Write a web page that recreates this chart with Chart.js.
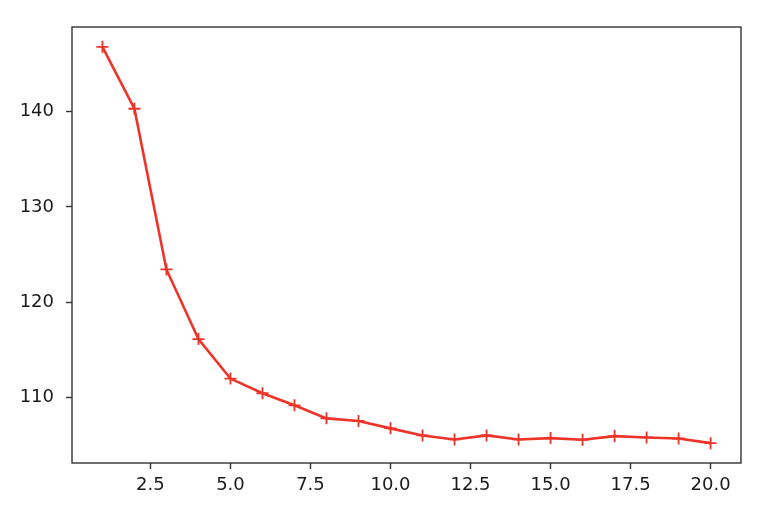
<!DOCTYPE html>
<html>
<head>
<meta charset="utf-8">
<script src="https://cdn.jsdelivr.net/npm/chart.js@4"></script>
<style>
  html, body { margin: 0; padding: 0; background: #fff; }
  #wrap { width: 770px; height: 518px; }
</style>
</head>
<body>
<div id="wrap"><canvas id="loss"></canvas></div>
<script>
const epochs = [1, 2, 3, 4, 5, 6, 7, 8, 9, 10, 11, 12, 13, 14, 15, 16, 17, 18, 19, 20];
const values = [146.77, 140.28, 123.44, 116.14, 112.0, 110.46, 109.2, 107.83, 107.55, 106.78,
                106.04, 105.62, 106.04, 105.62, 105.76, 105.58, 105.97, 105.83, 105.72, 105.23];
const xTicks = [2.5, 5.0, 7.5, 10.0, 12.5, 15.0, 17.5, 20.0];
const yTicks = [110, 120, 130, 140];

const lineColor = '#ee3328';
const inkColor = '#1a1a1a';
const spineColor = '#333333';

// matplotlib-style box around the plot area
const frame = {
    id: 'frame',
    afterDraw(chart) {
        const a = chart.chartArea;
        const ctx = chart.ctx;
        ctx.save();
        ctx.strokeStyle = spineColor;
        ctx.lineWidth = 1.4;
        ctx.strokeRect(a.left, a.top, a.right - a.left, a.bottom - a.top);
        ctx.restore();
    }
};

new Chart(document.getElementById('loss'), {
    type: 'line',
    data: {
        datasets: [{
            data: epochs.map((x, i) => ({ x: x, y: values[i] })),
            borderColor: lineColor,
            backgroundColor: lineColor,
            borderWidth: 2.6,
            tension: 0,
            pointStyle: 'cross',
            pointRadius: 6,
            pointBorderWidth: 1.8,
            pointBorderColor: lineColor,
            pointHoverRadius: 6
        }]
    },
    options: {
        responsive: true,
        maintainAspectRatio: false,
        animation: false,
        devicePixelRatio: 1,
        layout: { padding: { left: 0, right: 29, top: 27, bottom: 0 } },
        plugins: {
            legend: { display: false },
            tooltip: { enabled: false }
        },
        scales: {
            x: {
                type: 'linear',
                min: 0.05,
                max: 20.95,
                afterBuildTicks: (scale) => { scale.ticks = xTicks.map(v => ({ value: v })); },
                afterFit: (scale) => { scale.height = 55; },
                grid: {
                    drawOnChartArea: false,
                    drawTicks: true,
                    tickLength: 6,
                    tickColor: spineColor,
                    tickWidth: 1.4
                },
                border: { display: false },
                ticks: {
                    autoSkip: false,
                    maxRotation: 0,
                    padding: 6,
                    color: inkColor,
                    font: { family: 'DejaVu Sans', size: 18 },
                    callback: (v) => Number(v).toFixed(1)
                }
            },
            y: {
                min: 103.15,
                max: 148.85,
                afterBuildTicks: (scale) => { scale.ticks = yTicks.map(v => ({ value: v })); },
                afterFit: (scale) => { scale.width = 72; },
                grid: {
                    drawOnChartArea: false,
                    drawTicks: true,
                    tickLength: 6,
                    tickColor: spineColor,
                    tickWidth: 1.4
                },
                border: { display: false },
                ticks: {
                    padding: 12,
                    color: inkColor,
                    font: { family: 'DejaVu Sans', size: 18 },
                    callback: (v) => String(v)
                }
            }
        }
    },
    plugins: [frame]
});
</script>
</body>
</html>
